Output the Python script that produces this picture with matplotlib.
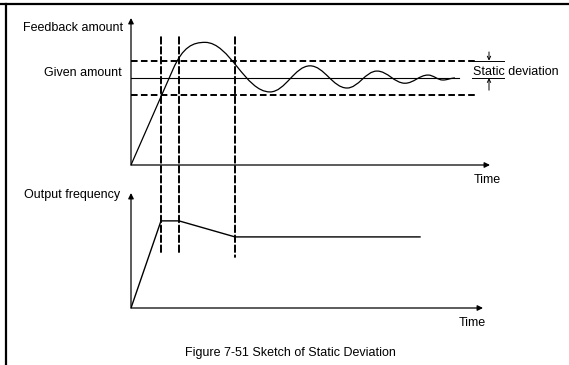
import matplotlib
matplotlib.use("Agg")
import matplotlib.pyplot as plt
from matplotlib.path import Path
from matplotlib.patches import PathPatch, ConnectionPatch
from matplotlib.lines import Line2D

plt.rcParams['font.family'] = ['Liberation Sans', 'DejaVu Sans']

# ---- data (sketch values) ----
given = 100
band_hi = 120
band_lo = 80
# feedback: straight rise, then damped oscillation round the given amount
rise_t = [0.0, 4.2]
rise_v = [0.0, 110.0]
peak_t = [7.4, 13.9, 17.9, 21.6, 24.6, 27.4, 29.7, 31.2, 32.4]
peak_v = [141, 84, 114, 88.5, 108, 94, 103.4, 97.7, 100]
# output frequency
freq_t = [0.0, 3.0, 4.8, 10.4, 28.9]
freq_v = [0.0, 50.0, 50.0, 40.8, 40.8]
# instants marked by the dashed lines
mark_t = [3.0, 4.8, 10.4]
mark_top = [147, 147, 147]
mark_bottom = [31.6, 31.6, 29.3]

t_max = 36
W, H = 569, 365

fig = plt.figure(figsize=(W / 100, H / 100), dpi=100)
ax1 = fig.add_axes([131 / W, (H - 165) / H, 360 / W, 147 / H])
ax2 = fig.add_axes([131 / W, (H - 308) / H, 360 / W, 115 / H])
for ax in (ax1, ax2):
    ax.set_xlim(0, t_max)
    ax.axis('off')
ax1.set_ylim(0, 169)
ax2.set_ylim(0, 66)

arrow = dict(arrowstyle='-|>', color='black', lw=0.9, mutation_scale=8,
             shrinkA=0, shrinkB=0)
dash = (0, (3.4, 1.7))

# axes with arrows
ax1.annotate('', xy=(35.9, 0), xytext=(0, 0), arrowprops=arrow, annotation_clip=False)
ax1.annotate('', xy=(0, 169), xytext=(0, 0), arrowprops=arrow, annotation_clip=False)
ax2.annotate('', xy=(35.2, 0), xytext=(0, 0), arrowprops=arrow, annotation_clip=False)
ax2.annotate('', xy=(0, 66), xytext=(0, 0), arrowprops=arrow, annotation_clip=False)

# band and given level
ax1.plot([0, 34.4], [band_hi, band_hi], color='black', lw=1.4, ls=dash)
ax1.plot([0, 34.4], [band_lo, band_lo], color='black', lw=1.4, ls=dash)
ax1.plot([0, 32.8], [given, given], color='black', lw=0.8)

# feedback curve: line segment then bezier arcs between the extrema
verts = [(rise_t[0], rise_v[0]), (rise_t[1], rise_v[1])]
codes = [Path.MOVETO, Path.LINETO]
slope = (rise_v[1] - rise_v[0]) / (rise_t[1] - rise_t[0])
verts += [(rise_t[1] + 1.0, rise_v[1] + slope * 1.0),
          (peak_t[0] - 1.2, peak_v[0]), (peak_t[0], peak_v[0])]
codes += [Path.CURVE4] * 3
for i in range(1, len(peak_t)):
    t0, v0 = peak_t[i - 1], peak_v[i - 1]
    t1, v1 = peak_t[i], peak_v[i]
    k = 0.38 * (t1 - t0)
    verts += [(t0 + k, v0), (t1 - k, v1), (t1, v1)]
    codes += [Path.CURVE4] * 3
ax1.add_patch(PathPatch(Path(verts, codes), fill=False, edgecolor='black', lw=0.9))

# output frequency
ax2.plot(freq_t, freq_v, color='black', lw=1.0)

# dashed time marks spanning both panels
for t, top, bot in zip(mark_t, mark_top, mark_bottom):
    cp = ConnectionPatch(xyA=(t, top), coordsA=ax1.transData,
                         xyB=(t, bot), coordsB=ax2.transData,
                         color='black', lw=1.4, ls=dash)
    fig.add_artist(cp)

# static deviation marker
ax1.plot([34.1, 37.3], [band_hi, band_hi], color='black', lw=0.7, clip_on=False)
ax1.plot([34.1, 37.3], [given, given], color='black', lw=0.7, clip_on=False)
sm = dict(arrowstyle='->', color='black', lw=0.7, mutation_scale=6, shrinkA=0, shrinkB=0)
ax1.annotate('', xy=(35.8, band_hi), xytext=(35.8, 130), arrowprops=sm, annotation_clip=False)
ax1.annotate('', xy=(35.8, given), xytext=(35.8, 86), arrowprops=sm, annotation_clip=False)
ax1.text(34.2, 107, 'Static deviation', fontsize=9, va='center', ha='left', clip_on=False)

# labels
ax1.text(-0.8, 157.5, 'Feedback amount', fontsize=9, ha='right', va='center')
ax1.text(-0.9, 106, 'Given amount', fontsize=9, ha='right', va='center')
ax1.text(35.6, -17, 'Time', fontsize=9, ha='center', va='center')
ax2.text(-1.1, 65, 'Output frequency', fontsize=9, ha='right', va='center')
ax2.text(34.1, -8.6, 'Time', fontsize=9, ha='center', va='center')
fig.text(290 / W, 1 - 353 / H, 'Figure 7-51 Sketch of Static Deviation',
         fontsize=9, ha='center', va='center')

# frame lines on the top and left
fig.add_artist(Line2D([0, 1], [1 - 4 / H, 1 - 4 / H], color='black', lw=1.6))
fig.add_artist(Line2D([6 / W, 6 / W], [0, 1 - 4 / H], color='black', lw=1.6))

fig.savefig('out.png', dpi=100)
